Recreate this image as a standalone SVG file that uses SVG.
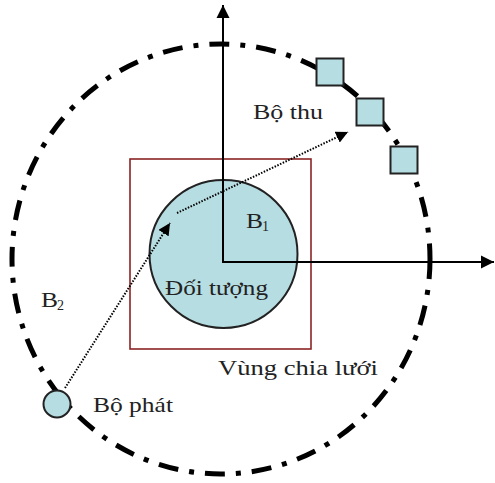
<svg xmlns="http://www.w3.org/2000/svg" width="495" height="483" viewBox="0 0 495 483">
<style>
.t{font-family:"Liberation Serif","Times New Roman",serif;font-size:21px;fill:#222}
.s{font-family:"Liberation Serif","Times New Roman",serif;font-size:14px;fill:#222}
.ax{stroke:#000;stroke-width:2;fill:none}
.dot{stroke:#000;stroke-width:2;stroke-dasharray:1.5 1.5;fill:none}
.blue{fill:#b6dde2;stroke:#222;stroke-width:2}
</style>
<defs>
<marker id="ah" viewBox="0 0 10 10" refX="10" refY="5" markerWidth="6" markerHeight="6" markerUnits="strokeWidth" orient="auto">
<path d="M0,0 L10,5 L0,10 z" fill="#000"/>
</marker>
<marker id="ax" viewBox="0 0 10 10" refX="10" refY="5" markerWidth="6.5" markerHeight="7" markerUnits="strokeWidth" orient="auto">
<path d="M0,0 L10,5 L0,10 z" fill="#000"/>
</marker>
</defs>
<g id="orbit">
<ellipse cx="221" cy="259" rx="209" ry="215" fill="none" stroke="#000" stroke-width="5" stroke-dasharray="20 11 5 11"/>
</g>
<g id="grid-region">
<rect x="130" y="159" width="181" height="190" fill="none" stroke="#8b2323" stroke-width="1.6"/>
<text class="t" x="218" y="375" textLength="160" lengthAdjust="spacingAndGlyphs">Vùng chia lưới</text>
</g>
<g id="object">
<circle class="blue" cx="223.5" cy="254" r="74"/>
<text class="t" x="165" y="295" textLength="103" lengthAdjust="spacingAndGlyphs">Đối tượng</text>
</g>
<g id="connectors">
<line class="ax" x1="223" y1="262" x2="223" y2="5" marker-end="url(#ax)"/>
<line class="ax" x1="222" y1="262" x2="494" y2="262" marker-end="url(#ax)"/>
<line class="dot" x1="65" y1="388" x2="170" y2="223" marker-end="url(#ah)"/>
<line class="dot" x1="177" y1="213" x2="348" y2="132" marker-end="url(#ah)"/>
</g>
<g id="B1">
<text class="t" x="246" y="228" textLength="17" lengthAdjust="spacingAndGlyphs">B</text>
<text class="s" x="262" y="231">1</text>
</g>
<g id="B2">
<text class="t" x="41" y="307" textLength="17" lengthAdjust="spacingAndGlyphs">B</text>
<text class="s" x="57" y="310">2</text>
</g>
<g id="receivers">
<rect class="blue" x="316.5" y="58.5" width="27" height="27" stroke-width="1.8"/>
<rect class="blue" x="356.5" y="98.5" width="27" height="27" stroke-width="1.8"/>
<rect class="blue" x="390.5" y="146.5" width="27" height="27" stroke-width="1.8"/>
<text class="t" x="253" y="119" textLength="70" lengthAdjust="spacingAndGlyphs">Bộ thu</text>
</g>
<g id="transmitter">
<circle class="blue" cx="57" cy="404" r="13.5"/>
<text class="t" x="93" y="412" textLength="80" lengthAdjust="spacingAndGlyphs">Bộ phát</text>
</g>
</svg>
